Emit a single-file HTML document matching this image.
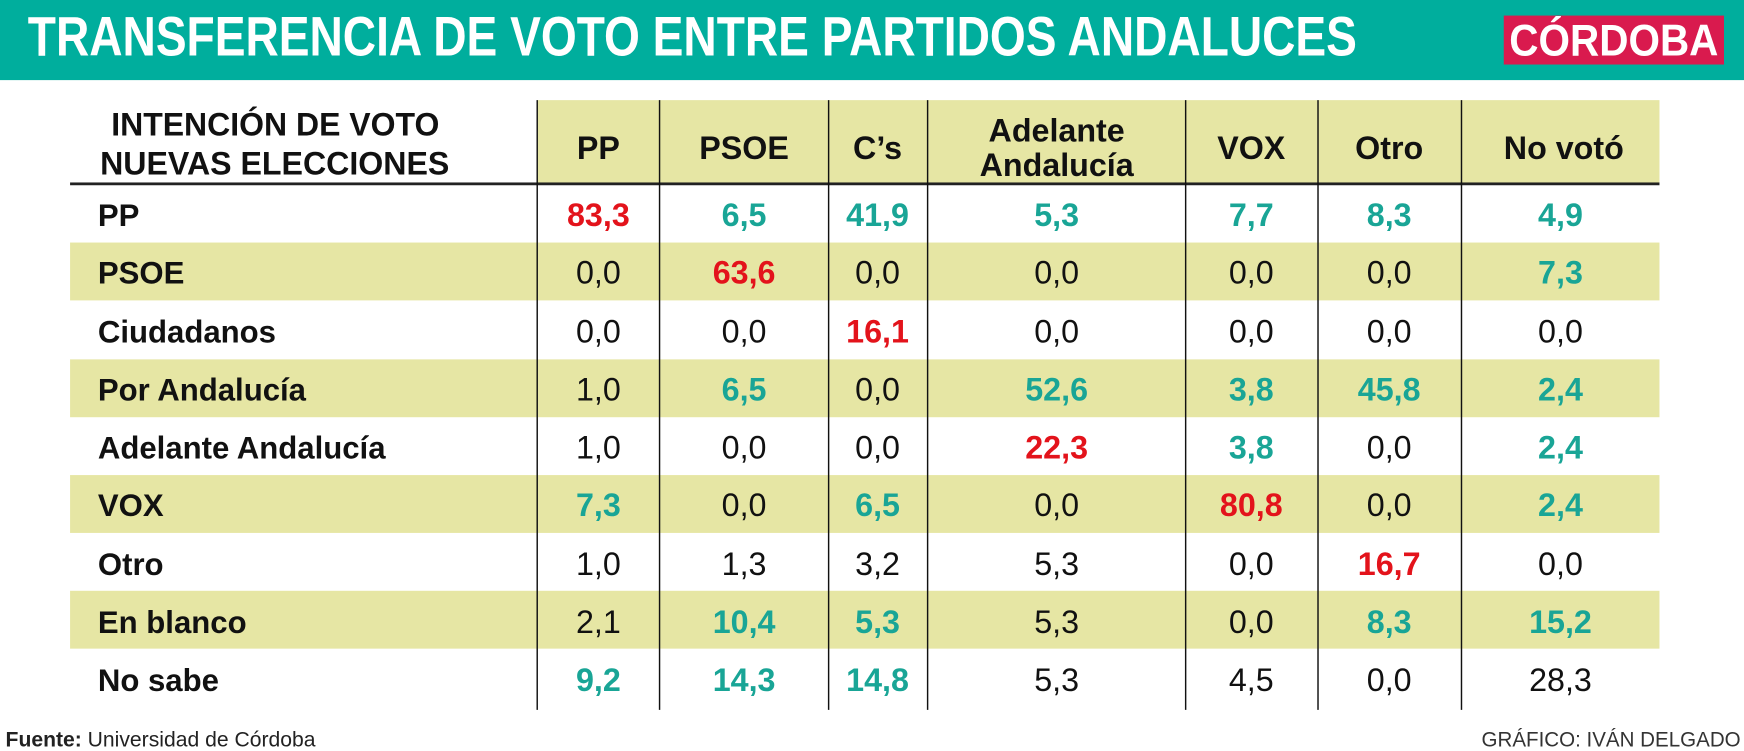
<!DOCTYPE html>
<html><head><meta charset="utf-8"><style>
html,body{margin:0;padding:0;background:#fff;}
svg{display:block;}
text{font-family:"Liberation Sans",sans-serif;}
.h{font-weight:bold;fill:#111;font-size:29px;}
.l{font-weight:bold;fill:#111;font-size:28px;}
.n{fill:#111;font-size:29px;text-anchor:middle;}
.t{fill:#19a596;font-size:29px;font-weight:bold;text-anchor:middle;}
.r{fill:#e3131b;font-size:29px;font-weight:bold;text-anchor:middle;}
</style></head><body>
<svg width="1744" height="751" viewBox="0 0 1568 675" preserveAspectRatio="none" xmlns="http://www.w3.org/2000/svg">
<rect x="0" y="0" width="1568" height="72" fill="#00ae9d"/>
<text x="25" y="50" font-size="50" font-weight="bold" fill="#fff" textLength="1195" lengthAdjust="spacingAndGlyphs">TRANSFERENCIA DE VOTO ENTRE PARTIDOS ANDALUCES</text>
<rect x="1352" y="14" width="198" height="44" fill="#d91a4e"/>
<text x="1357" y="50" font-size="40" font-weight="bold" fill="#fff" textLength="188" lengthAdjust="spacingAndGlyphs">CÓRDOBA</text>

<rect x="483" y="90" width="1009" height="75" fill="#e6e6a4"/>
<rect x="63" y="218" width="1429" height="52" fill="#e6e6a4"/>
<rect x="63" y="323" width="1429" height="52" fill="#e6e6a4"/>
<rect x="63" y="427" width="1429" height="52" fill="#e6e6a4"/>
<rect x="63" y="531" width="1429" height="52" fill="#e6e6a4"/>
<rect x="63" y="164" width="1429" height="2.5" fill="#222"/>
<g stroke="#111" stroke-width="1.3">
<line x1="483" y1="90" x2="483" y2="638"/><line x1="593" y1="90" x2="593" y2="638"/>
<line x1="745" y1="90" x2="745" y2="638"/><line x1="834" y1="90" x2="834" y2="638"/>
<line x1="1066" y1="90" x2="1066" y2="638"/><line x1="1185" y1="90" x2="1185" y2="638"/>
<line x1="1314" y1="90" x2="1314" y2="638"/>
</g>
<text class="h" x="100" y="122" textLength="295" lengthAdjust="spacingAndGlyphs">INTENCIÓN DE VOTO</text>
<text class="h" x="90" y="157" textLength="314" lengthAdjust="spacingAndGlyphs">NUEVAS ELECCIONES</text>
<g class="h" text-anchor="middle">
<text class="h" x="538" y="143" text-anchor="middle">PP</text>
<text class="h" x="669" y="143" text-anchor="middle">PSOE</text>
<text class="h" x="789" y="143" text-anchor="middle">C’s</text>
<text class="h" x="950" y="127" text-anchor="middle">Adelante</text>
<text class="h" x="950" y="158" text-anchor="middle">Andalucía</text>
<text class="h" x="1125" y="143" text-anchor="middle">VOX</text>
<text class="h" x="1249" y="143" text-anchor="middle">Otro</text>
<text class="h" x="1406" y="143" text-anchor="middle">No votó</text>
</g>
<g>
<text class="l" x="88" y="203">PP</text>
<text class="l" x="88" y="255">PSOE</text>
<text class="l" x="88" y="308">Ciudadanos</text>
<text class="l" x="88" y="360">Por Andalucía</text>
<text class="l" x="88" y="412">Adelante Andalucía</text>
<text class="l" x="88" y="464">VOX</text>
<text class="l" x="88" y="517">Otro</text>
<text class="l" x="88" y="569">En blanco</text>
<text class="l" x="88" y="621">No sabe</text>
</g>
<g>
<!-- row PP -->
<text class="r" x="538" y="203">83,3</text><text class="t" x="669" y="203">6,5</text><text class="t" x="789" y="203">41,9</text><text class="t" x="950" y="203">5,3</text><text class="t" x="1125" y="203">7,7</text><text class="t" x="1249" y="203">8,3</text><text class="t" x="1403" y="203">4,9</text>
<!-- PSOE -->
<text class="n" x="538" y="255">0,0</text><text class="r" x="669" y="255">63,6</text><text class="n" x="789" y="255">0,0</text><text class="n" x="950" y="255">0,0</text><text class="n" x="1125" y="255">0,0</text><text class="n" x="1249" y="255">0,0</text><text class="t" x="1403" y="255">7,3</text>
<!-- Ciudadanos -->
<text class="n" x="538" y="308">0,0</text><text class="n" x="669" y="308">0,0</text><text class="r" x="789" y="308">16,1</text><text class="n" x="950" y="308">0,0</text><text class="n" x="1125" y="308">0,0</text><text class="n" x="1249" y="308">0,0</text><text class="n" x="1403" y="308">0,0</text>
<!-- Por Andalucía -->
<text class="n" x="538" y="360">1,0</text><text class="t" x="669" y="360">6,5</text><text class="n" x="789" y="360">0,0</text><text class="t" x="950" y="360">52,6</text><text class="t" x="1125" y="360">3,8</text><text class="t" x="1249" y="360">45,8</text><text class="t" x="1403" y="360">2,4</text>
<!-- Adelante -->
<text class="n" x="538" y="412">1,0</text><text class="n" x="669" y="412">0,0</text><text class="n" x="789" y="412">0,0</text><text class="r" x="950" y="412">22,3</text><text class="t" x="1125" y="412">3,8</text><text class="n" x="1249" y="412">0,0</text><text class="t" x="1403" y="412">2,4</text>
<!-- VOX -->
<text class="t" x="538" y="464">7,3</text><text class="n" x="669" y="464">0,0</text><text class="t" x="789" y="464">6,5</text><text class="n" x="950" y="464">0,0</text><text class="r" x="1125" y="464">80,8</text><text class="n" x="1249" y="464">0,0</text><text class="t" x="1403" y="464">2,4</text>
<!-- Otro -->
<text class="n" x="538" y="517">1,0</text><text class="n" x="669" y="517">1,3</text><text class="n" x="789" y="517">3,2</text><text class="n" x="950" y="517">5,3</text><text class="n" x="1125" y="517">0,0</text><text class="r" x="1249" y="517">16,7</text><text class="n" x="1403" y="517">0,0</text>
<!-- En blanco -->
<text class="n" x="538" y="569">2,1</text><text class="t" x="669" y="569">10,4</text><text class="t" x="789" y="569">5,3</text><text class="n" x="950" y="569">5,3</text><text class="n" x="1125" y="569">0,0</text><text class="t" x="1249" y="569">8,3</text><text class="t" x="1403" y="569">15,2</text>
<!-- No sabe -->
<text class="t" x="538" y="621">9,2</text><text class="t" x="669" y="621">14,3</text><text class="t" x="789" y="621">14,8</text><text class="n" x="950" y="621">5,3</text><text class="n" x="1125" y="621">4,5</text><text class="n" x="1249" y="621">0,0</text><text class="n" x="1403" y="621">28,3</text>
</g>
<text x="5" y="671" font-size="19" fill="#222"><tspan font-weight="bold">Fuente:</tspan> Universidad de Córdoba</text>
<text x="1565" y="671" font-size="19" fill="#333" text-anchor="end" textLength="233" lengthAdjust="spacingAndGlyphs">GRÁFICO: IVÁN DELGADO</text>
</svg>
</body></html>
